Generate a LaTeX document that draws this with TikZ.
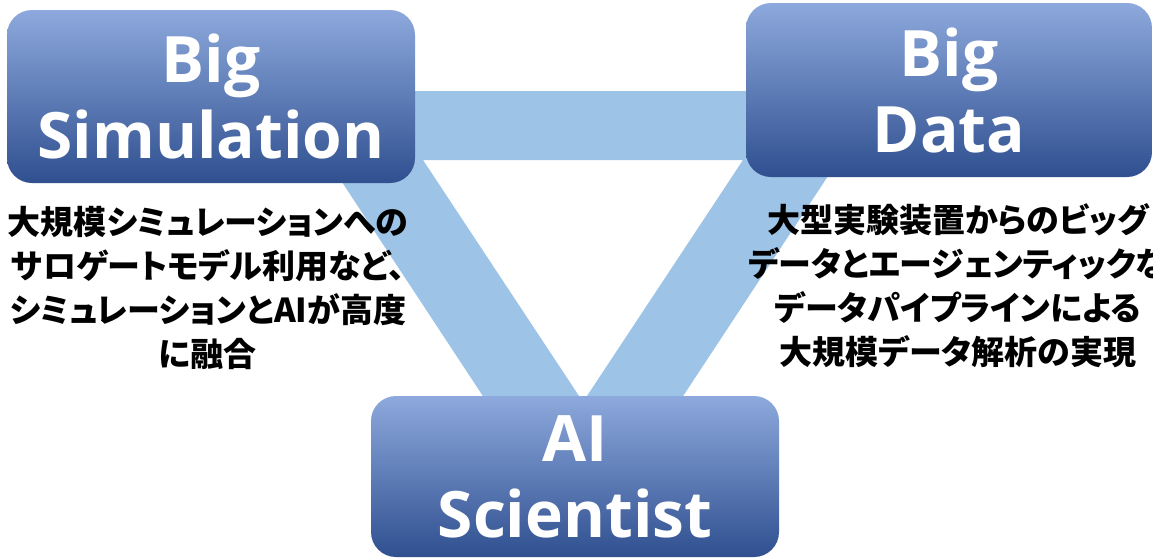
\documentclass[tikz,border=0pt]{standalone}
\usepackage{fontspec}
\setmainfont{Open Sans}
\newfontfamily\jpfont{Noto Sans CJK JP}[RawFeature=+palt]
\definecolor{bandblue}{HTML}{9DC3E6}
\definecolor{boxtop}{HTML}{8DA9DD}
\definecolor{boxmid}{HTML}{4673C5}
\definecolor{boxbot}{HTML}{2F4F8F}
\begin{document}
\begin{tikzpicture}[x=1pt,y=-1pt,
  bigbox/.style={rounded corners=25pt, top color=boxtop, middle color=boxmid, bottom color=boxbot,
    minimum width=408pt, inner sep=0pt, align=center, text=white,
    font=\bfseries\fontsize{64}{76}\selectfont},
  jptext/.style={inner sep=0pt, align=center, text=black,
    font=\jpfont\bfseries\fontsize{33}{44}\selectfont},
  band/.style={fill=bandblue, even odd rule}]
\clip (0,0) rectangle (1153,558);
\fill[white] (0,0) rectangle (1153,558);
% triangle band
\fill[band] (282,91) -- (884,91) -- (583,548) -- cycle
            (423,160) -- (743,160) -- (583,402) -- cycle;
% boxes
\node[bigbox, minimum height=173pt] (bs) at (211,96.5) {Big\\Simulation};
\node[bigbox, minimum width=406pt, minimum height=174pt] (bd) at (949,90) {Big\\Data};
\node[bigbox, minimum height=161pt] (ai) at (575,476.5) {AI\\Scientist};
% descriptions
\node[jptext] (ls) at (208,288) {大規模シミュレーションへの\\サロゲートモデル利用など、\\シミュレーションとAIが高度\\に融合};
\node[jptext] (rd) at (958,286) {大型実験装置からのビッグ\\データとエージェンティックな\\データパイプラインによる\\大規模データ解析の実現};
\end{tikzpicture}
\end{document}
